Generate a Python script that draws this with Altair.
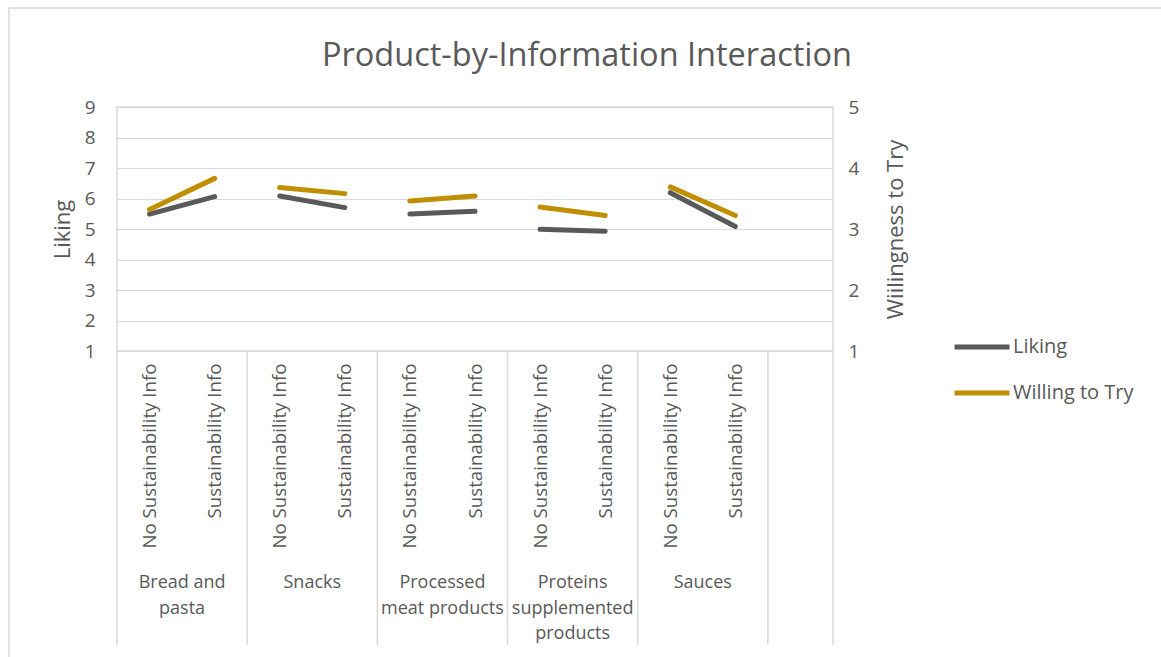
import altair as alt
import pandas as pd

# Product groups (display labels may wrap) and the two information conditions
products = ["Bread and pasta", "Snacks", "Processed meat products",
            "Proteins supplemented products", "Sauces"]
product_labels = ["Bread and\npasta", "Snacks", "Processed\nmeat products",
                  "Proteins\nsupplemented\nproducts", "Sauces"]
info_levels = ["No Sustainability Info", "Sustainability Info"]

# Mean scores, ordered product by product (no info, info)
liking = [5.49, 6.06, 6.08, 5.70, 5.49, 5.58, 4.99, 4.93, 6.19, 5.08]
willing = [3.32, 3.83, 3.68, 3.58, 3.46, 3.54, 3.36, 3.22, 3.69, 3.22]

series_names = ["Liking", "Willing to Try"]
series_colors = ["#595959", "#BF8F00"]

# Category slots: 2 per product plus one empty slot at the end
n_slots = 2 * len(products) + 1
W, H = 716, 244
PAD_L, PAD_T = 117, 107
TOTAL_W, TOTAL_H = 1161, 657
FONT = "Open Sans"
TXT = "#595959"
GRID = "#d9d9d9"

rows = []
for g, prod in enumerate(products):
    for j, info in enumerate(info_levels):
        k = 2 * g + j
        rows.append({"series": "Liking", "product": prod, "info": info,
                     "slot": k + 0.5, "value": liking[k]})
        rows.append({"series": "Willing to Try", "product": prod, "info": info,
                     "slot": k + 0.5, "value": willing[k]})
df = pd.DataFrame(rows)

x_scale = alt.Scale(domain=[0, n_slots], nice=False, zero=False)
color = alt.Color(
    "series:N",
    scale=alt.Scale(domain=series_names, range=series_colors),
    legend=alt.Legend(
        orient="none", legendX=835, legendY=210, title=None,
        symbolType="stroke", symbolSize=3025, symbolStrokeWidth=5,
        labelFont=FONT, labelFontSize=20, labelColor=TXT, labelOffset=1,
        rowPadding=6,
    ),
)

slot_label_expr = (
    f"datum.value % 2 < 1 ? '{info_levels[0]}' : '{info_levels[1]}'"
)

# Inner category axis: the information condition under each slot
x_axis = alt.Axis(
    values=[k + 0.5 for k in range(2 * len(products))],
    labelExpr=slot_label_expr, labelAngle=270, labelAlign="right",
    labelBaseline="middle", labelPadding=12, ticks=False, tickSize=0,
    domain=False, grid=False, labelOverlap=False, labelFlush=False,
    labelLimit=400,
    labelFont=FONT, labelFontSize=18.7, labelColor=TXT, title=None,
)


def x_enc(field):
    return alt.X(field, scale=x_scale, axis=x_axis)


base = alt.Chart(df)

liking_line = base.transform_filter(alt.datum.series == "Liking").mark_line(
    strokeWidth=5, strokeCap="round"
).encode(
    x=x_enc("slot:Q"),
    y=alt.Y(
        "value:Q", scale=alt.Scale(domain=[1, 9], nice=False, zero=False),
        axis=alt.Axis(
            values=list(range(1, 10)), grid=True, gridColor=GRID,
            ticks=False, tickSize=0, domain=False, labelPadding=22,
            labelFont=FONT, labelFontSize=19, labelColor=TXT,
            title="Liking", titleFont=FONT, titleFontSize=22,
            titleFontWeight="normal", titleColor=TXT, titleAngle=270,
            titleAlign="center", titleBaseline="middle",
            titleX=-55, titleY=H / 2,
        ),
    ),
    color=color,
    detail="product:N",
)

willing_line = base.transform_filter(
    alt.datum.series == "Willing to Try"
).mark_line(strokeWidth=5, strokeCap="round").encode(
    x=x_enc("slot:Q"),
    y=alt.Y(
        "value:Q", scale=alt.Scale(domain=[1, 5], nice=False, zero=False),
        axis=alt.Axis(
            orient="right", values=list(range(1, 6)), grid=False,
            ticks=False, tickSize=0, domain=False, labelPadding=15,
            labelFont=FONT, labelFontSize=19, labelColor=TXT,
            title="Wiilingness to Try", titleFont=FONT, titleFontSize=22,
            titleFontWeight="normal", titleColor=TXT, titleAngle=270,
            titleAlign="center", titleBaseline="middle",
            titleX=62, titleY=H / 2,
        ),
    ),
    color=color,
    detail="product:N",
)

# Vertical dividers of the grouped category axis
bounds = pd.DataFrame({"b": [2 * g for g in range(len(products) + 1)] + [n_slots]})
dividers = alt.Chart(bounds).mark_rule(color=GRID, strokeWidth=1.5).encode(
    x=x_enc("b:Q"),
    y=alt.value(H),
    y2=alt.value(H + 294),
)

# Product names under each pair of categories
groups = pd.DataFrame({
    "center": [2 * g + 1 for g in range(len(products))],
    "label": product_labels,
})
group_text = alt.Chart(groups).mark_text(
    font=FONT, fontSize=18, color=TXT, baseline="top", align="center",
    lineBreak="\n", lineHeight=25.5,
).encode(
    x=x_enc("center:Q"),
    y=alt.value(H + 223),
    text="label:N",
)

# Outer chart frame (left and top edges)
frame_src = alt.Data(values=[{}])
frame_left = alt.Chart(frame_src).mark_rule(color=GRID, strokeWidth=1.5).encode(
    x=alt.value(9 - PAD_L), y=alt.value(8 - PAD_T), y2=alt.value(TOTAL_H - PAD_T)
)
frame_top = alt.Chart(frame_src).mark_rule(color=GRID, strokeWidth=1.5).encode(
    x=alt.value(9 - PAD_L), x2=alt.value(TOTAL_W - PAD_L), y=alt.value(8 - PAD_T)
)

chart = alt.layer(
    liking_line, willing_line, dividers, group_text, frame_left, frame_top
).resolve_scale(
    y="independent"
).properties(
    width=W, height=H,
    title=alt.TitleParams(
        "Product-by-Information Interaction", font=FONT, fontSize=32.5,
        fontWeight="normal", color=TXT, anchor="middle", dx=112,
        offset=0, dy=65,
    ),
    autosize=alt.AutoSizeParams(type="none"),
    padding={"left": PAD_L, "top": PAD_T,
             "right": TOTAL_W - PAD_L - W, "bottom": TOTAL_H - PAD_T - H},
    background="white",
).configure_view(stroke=GRID, strokeWidth=1.5)

chart.save("out.html", embed_options={"renderer": "svg", "actions": False})
